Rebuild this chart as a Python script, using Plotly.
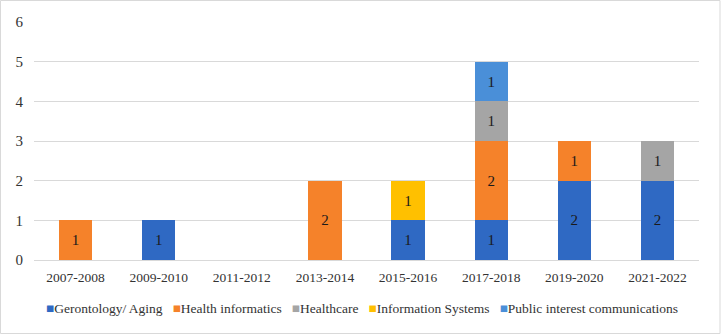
import plotly.graph_objects as go

categories = ["2007-2008", "2009-2010", "2011-2012", "2013-2014",
              "2015-2016", "2017-2018", "2019-2020", "2021-2022"]
series_names = ["Gerontology/ Aging", "Health informatics", "Healthcare",
                "Information Systems", "Public interest communications"]
gerontology = [0, 1, 0, 0, 1, 1, 2, 2]
health_informatics = [1, 0, 0, 2, 0, 2, 1, 0]
healthcare = [0, 0, 0, 0, 0, 1, 0, 1]
information_systems = [0, 0, 0, 0, 1, 0, 0, 0]
public_interest = [0, 0, 0, 0, 0, 1, 0, 0]
y_ticks = [0, 1, 2, 3, 4, 5, 6]

FONT = "Liberation Serif"
colors = ["#2F69C3", "#F5822A", "#A5A5A5", "#FFC000", "#4A8FD8"]
all_values = [gerontology, health_informatics, healthcare, information_systems, public_interest]

fig = go.Figure()
for name, vals, col in zip(series_names, all_values, colors):
    fig.add_trace(go.Bar(
        x=categories,
        y=[v if v else None for v in vals],
        name=name,
        showlegend=False,
        marker=dict(color=col, line=dict(width=0)),
        text=[str(v) if v else "" for v in vals],
        textposition="inside",
        insidetextanchor="middle",
        textfont=dict(family=FONT, size=15, color="#1a1a1a"),
        constraintext="none",
    ))

legend_text = "&nbsp;&nbsp;&nbsp;".join(
    f'<span style="color:{c}">■</span>{n}' for n, c in zip(series_names, colors)
)

fig.update_layout(
    barmode="stack",
    bargap=0.6,
    width=721, height=334,
    margin=dict(l=34, r=22, t=22, b=74, autoexpand=False),
    paper_bgcolor="white",
    plot_bgcolor="white",
    font=dict(family=FONT, size=14, color="#333333"),
    xaxis=dict(showline=True, linecolor="#D9D9D9", linewidth=1, ticks="",
               tickfont=dict(family=FONT, size=13.5), ticklabelstandoff=5,
               fixedrange=True),
    yaxis=dict(range=[0, 6], tickvals=y_ticks, showgrid=True, gridcolor="#D9D9D9",
               gridwidth=1, zeroline=False, ticks="", tickfont=dict(family=FONT, size=15),
               ticklabelstandoff=10, fixedrange=True),
    annotations=[dict(text=legend_text, xref="paper", yref="paper", x=(361.5 - 34) / 665,
                      y=-48 / 238, xanchor="center", yanchor="middle", showarrow=False,
                      font=dict(family=FONT, size=13.5, color="#333333"))],
    shapes=[dict(type="rect", xref="paper", yref="paper", x0=-33.5 / 665, x1=1 + 21 / 665,
                 y0=-73.5 / 238, y1=1 + 21.5 / 238, line=dict(color="#D9D9D9", width=1))],
)

fig.write_html("out.html",
               config={"displayModeBar": False},
               post_script="document.body.style.margin='0';document.body.style.padding='0';")
